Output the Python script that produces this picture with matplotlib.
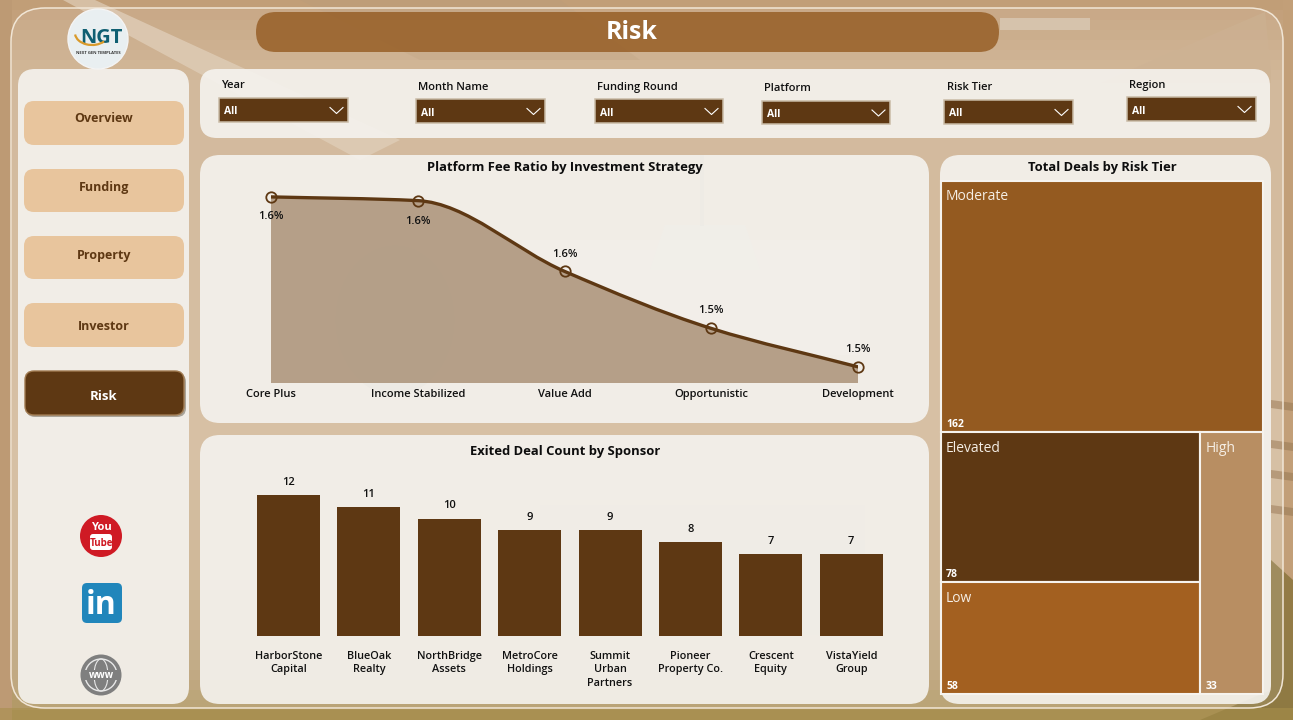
import numpy as np
import matplotlib
matplotlib.use("Agg")
import matplotlib.pyplot as plt
from matplotlib.patches import FancyBboxPatch, Polygon, Circle, Rectangle, PathPatch, Arc, Ellipse
from matplotlib.path import Path

# ---- data ----
strategies = ["Core Plus", "Income Stabilized", "Value Add", "Opportunistic", "Development"]
fee_ratio = [1.630, 1.627, 1.570, 1.524, 1.493]
sponsors = ["HarborStone\nCapital", "BlueOak\nRealty", "NorthBridge\nAssets", "MetroCore\nHoldings",
            "Summit\nUrban\nPartners", "Pioneer\nProperty Co.", "Crescent\nEquity", "VistaYield\nGroup"]
exited_deals = [12, 11, 10, 9, 9, 8, 7, 7]
risk_tiers = ["Moderate", "Elevated", "Low", "High"]
risk_deals = [162, 78, 58, 33]
nav_items = ["Overview", "Funding", "Property", "Investor"]
filter_names = ["Year", "Month Name", "Funding Round", "Platform", "Risk Tier", "Region"]

# ---- styles ----
W, H = 1293, 720
DARK = "#5e3813"
FONT = "Open Sans"
plt.rcParams["font.family"] = [FONT, "DejaVu Sans"]
fig = plt.figure(figsize=(W / 100, H / 100), dpi=100)
bg = fig.add_axes([0, 0, 1, 1])
bg.set_xlim(0, W); bg.set_ylim(H, 0); bg.axis("off")


def rrect(x0, y0, x1, y1, r, fc, ec="none", lw=0, alpha=None, z=2):
    p = FancyBboxPatch((x0 + r, y0 + r), x1 - x0 - 2 * r, y1 - y0 - 2 * r,
                       boxstyle=f"round,pad={r},rounding_size={r}", fc=fc, ec=ec, lw=lw, alpha=alpha, zorder=z)
    bg.add_patch(p)
    return p


def poly(pts, c, alpha=1, z=1):
    bg.add_patch(Polygon(pts, closed=True, fc=c, ec="none", alpha=alpha, zorder=z))


# ---- photo-like background ----
vert = np.zeros((72, 2, 3))
stops_y = [0, 8, 45, 58, 66, 70.5, 72]
cols = [(0.76, 0.62, 0.47), (0.81, 0.70, 0.57), (0.83, 0.73, 0.61), (0.79, 0.69, 0.55),
        (0.74, 0.64, 0.48), (0.70, 0.60, 0.40), (0.62, 0.53, 0.30)]
for c in range(3):
    vert[:, :, c] = np.interp(np.arange(72), stops_y, [k[c] for k in cols])[:, None]
bg.imshow(vert, extent=[0, W, H, 0], aspect="auto", zorder=0)
bg.set_xlim(0, W); bg.set_ylim(H, 0)
poly([(0, 0), (12, 0), (12, 720), (0, 720)], "#bd9a74")
poly([(63, 0), (95, 0), (400, 140), (360, 160)], "#dcc8b0", alpha=.8)
poly([(300, 0), (560, 0), (640, 60), (420, 60)], "#ba9c7a", alpha=.4)
poly([(1000, 18), (1090, 18), (1090, 30), (1000, 30)], "#ddd0bd", alpha=.6)
poly([(1100, 83), (1265, 12), (1271, 70), (1271, 83)], "#c8aa88", alpha=.6)
poly([(1283, 0), (1293, 0), (1293, 640), (1283, 640)], "#c29f78")
for yy in (400, 440, 470, 505):
    poly([(1271, yy), (1293, yy + 3), (1293, yy + 11), (1271, yy + 8)], "#a58560", alpha=.8)
poly([(1271, 560), (1293, 580), (1293, 720), (1200, 720), (1271, 690)], "#7f6c32", alpha=.7)
poly([(0, 708), (1293, 708), (1293, 720), (0, 720)], "#a88f4c", alpha=.6)
# faint furniture of the room, seen through the panels
poly([(650, 270), (760, 270), (745, 225), (665, 225)], "#bcc4a8", alpha=.9)
poly([(700, 155), (704, 155), (704, 226), (700, 226)], "#a09a86", alpha=.8)
poly([(522, 240), (860, 240), (860, 355), (522, 355)], "#d8cdbb", alpha=.6)
bg.add_patch(Ellipse((395, 320), 120, 150, fc="#86785e", alpha=.6, zorder=1))
poly([(540, 505), (865, 505), (865, 635), (540, 635)], "#b0a995", alpha=.5)

# ---- frame and panels ----
rrect(11, 8, 1283, 708, 34, "#ffffff", alpha=.1, z=1.5)
rrect(11, 8, 1283, 708, 34, "none", ec="#f1e6d6", lw=1.1, z=1.6)
PANEL = "#f5f3ef"
PA = .9
for box in [(18, 69, 189, 704, 17), (200, 69, 1270, 138, 17), (200, 155, 929, 423, 20),
            (200, 435, 929, 704, 20), (940, 155, 1271, 704, 20)]:
    rrect(*box, PANEL, alpha=PA)

# title pill
rrect(256, 12, 999, 52, 20, "#975f27", alpha=.85, z=3)
bg.text(632, 32.5, "Risk", color="white", ha="center", va="center", fontsize=18, fontweight="bold", zorder=4)

# navigation
for name, (y0, y1), ty in zip(nav_items, [(101, 145), (169, 212), (236, 279), (303, 347)], [118, 187, 256, 326]):
    rrect(24, y0, 184, y1, 10, "#e8c59d", z=3)
    bg.text(104, ty, name, color=DARK, ha="center", va="center", fontsize=9, fontweight="bold", zorder=4)
rrect(26, 373, 186, 417, 9, "#8d8578", alpha=.7, z=3)
rrect(25, 371, 184, 415, 9, DARK, ec="#a07a50", lw=1, z=3.1)
bg.text(104, 396, "Risk", color="white", ha="center", va="center", fontsize=9.5, fontweight="bold", zorder=4)

# filters
filter_boxes = [(219, 98, 348, 122, 221, 84), (416, 99, 545, 123, 418, 86), (595, 99, 723, 123, 597, 86),
                (762, 101, 890, 124, 764, 87), (944, 100, 1073, 124, 947, 86), (1127, 97, 1256, 121, 1129, 84)]
for name, (x0, y0, x1, y1, lx, ly) in zip(filter_names, filter_boxes):
    bg.text(lx, ly + 1.5, name, color="#111111", ha="left", va="center", fontsize=8, fontweight="semibold", zorder=4)
    bg.add_patch(Rectangle((x0, y0), x1 - x0, y1 - y0, fc=DARK, ec="#c9bba6", lw=1.1, zorder=3))
    bg.text(x0 + 5, (y0 + y1) / 2 + 2, "All", color="white", ha="left", va="center", fontsize=7.5,
            fontweight="bold", zorder=4)
    cy = (y0 + y1) / 2
    bg.plot([x1 - 18, x1 - 11.5, x1 - 5], [cy - 2.5, cy + 3.5, cy - 2.5], color="white", lw=.8, zorder=4)

# logo
bg.add_patch(Circle((98, 39), 30, fc="#e9eff1", ec="#f4f4f4", lw=1, zorder=3))
bg.text(101, 38, "NGT", color="#0f5f72", ha="center", va="center", fontsize=14.5, fontweight="bold", zorder=4)
bg.add_patch(Arc((92, 33), 34, 24, theta1=35, theta2=175, color="#d99a2b", lw=1.6, zorder=4.5))
bg.text(98, 52.5, "NEXT GEN TEMPLATES", color="#333333", ha="center", va="center", fontsize=3, fontweight="bold", zorder=4)

# social icons
bg.add_patch(Circle((101, 536), 21, fc="#cf1a24", zorder=3))
bg.text(101, 528, "You", color="white", ha="center", va="center", fontsize=8, fontweight="bold", zorder=4)
rrect(90, 534, 112, 550, 3, "white", z=4)
bg.text(101, 543, "Tube", color="#cf1a24", ha="center", va="center", fontsize=7, fontweight="bold", zorder=5)
rrect(82, 583, 122, 623, 5, "#2186bb", z=3)
bg.text(101, 605, "in", color="white", ha="center", va="center", fontsize=23, fontweight="bold", zorder=4)
bg.add_patch(Circle((101, 675), 20.5, fc="#7f7f7f", zorder=3))
bg.add_patch(Circle((101, 675), 16, fc="none", ec="#e8e8e8", lw=1, zorder=4))
bg.add_patch(Ellipse((101, 675), 14, 32, fc="none", ec="#e8e8e8", lw=.8, zorder=4))
bg.add_patch(Rectangle((81, 670), 40, 10, fc="#7f7f7f", zorder=4.5))
bg.text(101, 676, "www", color="white", ha="center", va="center", fontsize=7, fontweight="bold", zorder=5)

# panel titles
for x, y, t in [(565, 168, "Platform Fee Ratio by Investment Strategy"),
                (565, 451, "Exited Deal Count by Sponsor"),
                (1102, 168, "Total Deals by Risk Tier")]:
    bg.text(x, y, t, color="#0d0d0d", ha="center", va="center", fontsize=9.4, fontweight="bold", zorder=4)


def add_axes_px(x0, y0, x1, y1):
    ax = fig.add_axes([x0 / W, 1 - y1 / H, (x1 - x0) / W, (y1 - y0) / H])
    ax.patch.set_visible(False)
    for s in ax.spines.values():
        s.set_visible(False)
    return ax


# ---- area / line chart ----
ax = add_axes_px(271, 181, 858, 383)
xs = np.arange(len(strategies), dtype=float)
ys = np.array(fee_ratio)
ax.set_xlim(0, len(strategies) - 1)
ax.set_ylim(1.48, 1.48 + 202 * 0.000806)
d = np.diff(ys)
m = np.zeros_like(ys)
m[0], m[-1] = d[0], d[-1]
for i in range(1, len(ys) - 1):
    m[i] = 2 * d[i - 1] * d[i] / (d[i - 1] + d[i])
verts = [(xs[0], ys[0])]
codes = [Path.MOVETO]
for i in range(len(ys) - 1):
    verts += [(xs[i] + 1 / 3, ys[i] + m[i] / 3), (xs[i + 1] - 1 / 3, ys[i + 1] - m[i + 1] / 3), (xs[i + 1], ys[i + 1])]
    codes += [Path.CURVE4] * 3
ax.add_patch(PathPatch(Path(verts, codes), fc="none", ec=DARK, lw=2.4, zorder=3, capstyle="round"))
area_v = verts + [(xs[-1], 1.48), (xs[0], 1.48), (xs[0], ys[0])]
area_c = codes + [Path.LINETO, Path.LINETO, Path.CLOSEPOLY]
ax.add_patch(PathPatch(Path(area_v, area_c), fc="#b09980", ec="none", alpha=.92, zorder=2))
ax.plot(xs, ys, ls="none", marker="o", ms=7.5, mfc="none", mec=DARK, mew=1.3, clip_on=False, zorder=4)
label_off = [18, 19, -18, -19, -19]
for x, y, dy in zip(xs, ys, label_off):
    ax.annotate(f"{y:.1f}%", (x, y), xytext=(0, -(dy + 1.5) * .72), textcoords="offset points",
                ha="center", va="center", fontsize=8, fontweight="semibold", color="#111111", zorder=5)
ax.set_yticks([])
ax.set_xticks(xs, strategies, fontsize=8, fontweight="semibold", color="#111111")
ax.tick_params(axis="x", length=0, pad=4)

# ---- bar chart ----
ax2 = add_axes_px(248.3, 470, 891.5, 636)
ax2.bar(np.arange(len(sponsors)), exited_deals, width=0.784, color=DARK, zorder=2)
ax2.set_xlim(-.5, len(sponsors) - .5)
ax2.set_ylim(0, 166 / 11.75)
for i, v in enumerate(exited_deals):
    ax2.annotate(str(v), (i, v), xytext=(0, 9), textcoords="offset points", ha="center", va="center",
                 fontsize=8, fontweight="semibold", color="#111111")
ax2.set_yticks([])
ax2.set_xticks(np.arange(len(sponsors)), sponsors, fontsize=7.8, fontweight="semibold", color="#111111",
               linespacing=1.27)
ax2.tick_params(axis="x", length=0, pad=11)

# ---- treemap ----
ax3 = add_axes_px(940.5, 181, 1263, 694)
ax3.set_xlim(0, 1); ax3.set_ylim(1, 0); ax3.axis("off")
total = float(sum(risk_deals))
top_h = risk_deals[0] / total
rest = total - risk_deals[0]
left_w = (risk_deals[1] + risk_deals[2]) / rest
elev_h = risk_deals[1] / (risk_deals[1] + risk_deals[2]) * (1 - top_h)
rects = [(0, 0, 1, top_h), (0, top_h, left_w, elev_h), (0, top_h + elev_h, left_w, 1 - top_h - elev_h),
         (left_w, top_h, 1 - left_w, 1 - top_h)]
tree_cols = ["#945a20", DARK, "#a36020", "#b88e62"]
for name, val, (x, y, w, h), c in zip(risk_tiers, risk_deals, rects, tree_cols):
    ax3.add_patch(Rectangle((x, y), w, h, fc=c, ec="#f6f3ee", lw=1.5, clip_on=False))
    ax3.annotate(name, (x, y), xytext=(4, -11.5), textcoords="offset points", color="#f5eee5",
                 ha="left", va="center", fontsize=10)
    ax3.annotate(str(val), (x, y + h), xytext=(4, 5.5), textcoords="offset points", color="white",
                 ha="left", va="center", fontsize=7.5, fontweight="bold")

fig.savefig("out.png", dpi=100)
